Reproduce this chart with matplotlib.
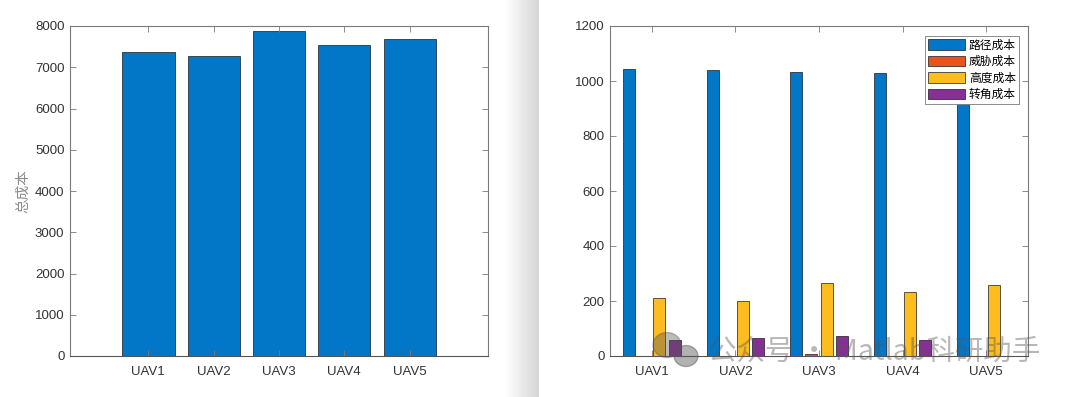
import numpy as np
import matplotlib
matplotlib.use('Agg')
import matplotlib.pyplot as plt
from matplotlib.patches import Ellipse

plt.rcParams['font.family'] = ['Liberation Sans', 'Noto Sans CJK SC', 'DejaVu Sans']

# data
uavs = ['UAV1', 'UAV2', 'UAV3', 'UAV4', 'UAV5']
total_cost = [7378, 7281, 7887, 7531, 7685]

path_cost = [1044, 1039, 1031, 1029, 1035]
threat_cost = [0, 0, 6, 0, 0]
height_cost = [210, 201, 264, 234, 258]
turn_cost = [59, 65, 72, 57, 0]

series_names = ['路径成本', '威胁成本', '高度成本', '转角成本']
colors = ['#0277C8', '#E8541D', '#FDBD21', '#882E98']

W, H = 1080, 397
fig = plt.figure(figsize=(W / 100, H / 100), dpi=100)
fig.patch.set_facecolor('white')

def box(px0, py0, px1, py1):
    # pixel box (top-left origin) -> figure fraction rect
    return [px0 / W, 1 - py1 / H, (px1 - px0) / W, (py1 - py0) / H]

def matlab_style(ax):
    for s in ax.spines.values():
        s.set_color('#7a7a7a')
        s.set_linewidth(0.8)
    ax.spines['bottom'].set_color('#555555')
    ax.tick_params(direction='in', length=4, width=0.6, color='#7a7a7a',
                   top=True, right=True, labelsize=9.5, labelcolor='#333333', pad=4)
    ax.tick_params(axis='x', pad=7)

# separator between the two figure windows
sep = fig.add_axes(box(505, 0, 539, H))
grad = np.linspace(1.0, 0.84, 64)[None, :]
sep.imshow(np.dstack([grad, grad, grad]), aspect='auto', extent=[0, 1, 0, 1])
sep.axis('off')

# left: total cost
ax1 = fig.add_axes(box(70, 26, 488, 356))
x = np.arange(1, len(uavs) + 1)
ax1.bar(x, total_cost, width=0.8, color=colors[0], edgecolor='#1a1a1a', linewidth=0.5)
ax1.set_xlim(-0.2, 6.2)
ax1.set_ylim(0, 8000)
ax1.set_xticks(x)
ax1.set_xticklabels(uavs)
ax1.set_yticks(np.arange(0, 8001, 1000))
ax1.set_ylabel('总成本', fontsize=10.5, color='#8c8c8c', family=['Noto Sans CJK SC'], labelpad=3)
matlab_style(ax1)

# right: cost breakdown, grouped bars
ax2 = fig.add_axes(box(610, 26, 1028, 356))
n = len(series_names)
slot = min(0.8, n / (n + 1.5)) / n
offsets = (np.arange(n) - (n - 1) / 2) * slot
data = [path_cost, threat_cost, height_cost, turn_cost]
for i in range(n):
    ax2.bar(x + offsets[i], data[i], width=0.8 * slot, color=colors[i],
            edgecolor='#1a1a1a', linewidth=0.5, label=series_names[i])
ax2.set_xlim(0.5, 5.5)
ax2.set_ylim(0, 1200)
ax2.set_xticks(x)
ax2.set_xticklabels(uavs)
ax2.set_yticks(np.arange(0, 1201, 200))
matlab_style(ax2)
leg = ax2.legend(loc='upper right', bbox_to_anchor=(0.978, 0.971), borderaxespad=0,
                 prop={'family': ['Noto Sans CJK SC'], 'size': 8.5},
                 fancybox=False, framealpha=1, edgecolor='#7a7a7a',
                 handlelength=3.2, handleheight=0.95, handletextpad=0.3,
                 labelspacing=0.3, borderpad=0.25)
leg.get_frame().set_linewidth(0.6)

# watermark
fig.patches.append(Ellipse((667 / W, 1 - 345 / H), 28 / W, 25 / H,
                           transform=fig.transFigure, color='#555555', alpha=0.4, zorder=10))
fig.patches.append(Ellipse((686 / W, 1 - 356 / H), 24 / W, 21 / H,
                           transform=fig.transFigure, color='#555555', alpha=0.45, zorder=10))
fig.text(708 / W, 1 - 352 / H, '公众号 · Matlab科研助手', fontsize=20.5,
         family=['Noto Sans CJK SC'], color='#555555', alpha=0.42,
         va='center', ha='left', zorder=10)

fig.savefig('out.png', dpi=100, facecolor='white')
